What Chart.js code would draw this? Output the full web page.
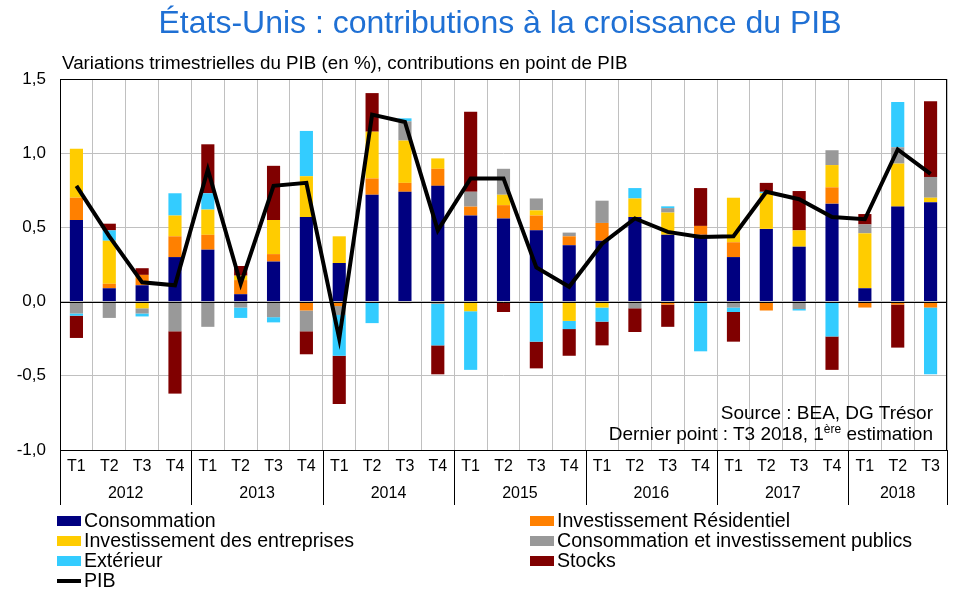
<!DOCTYPE html>
<html lang="fr">
<head>
<meta charset="utf-8">
<script src="https://cdn.jsdelivr.net/npm/chart.js@4.4.1/dist/chart.umd.min.js"></script>
<style>
  body { margin: 0; background: #fff; }
  #wrap { position: relative; width: 959px; height: 592px; font-family: "Liberation Sans", Arial, sans-serif; }
  canvas { position: absolute; left: 0; top: 0; }
  .txt { position: absolute; white-space: nowrap; color: #000; }
  #title { left: 0; width: 1000px; top: 4px; text-align: center; font-size: 32px; color: #1f70d4; }
  #subtitle { left: 62px; top: 52px; font-size: 18.8px; }
  #source { right: 26px; top: 402px; font-size: 19px; text-align: right; line-height: 21px; }
  #source sup { font-size: 12px; vertical-align: 7px; line-height: 0; }
  .leg { position: absolute; font-size: 19.6px; line-height: 20px; }
  .leg i { display: inline-block; width: 24px; height: 10px; margin-right: 3px; vertical-align: 1px; }
</style>
</head>
<body>
<div id="wrap">
  <canvas id="chart" width="959" height="592"></canvas>
  <div class="txt" id="title">États-Unis : contributions à la croissance du PIB</div>
  <div class="txt" id="subtitle">Variations trimestrielles du PIB (en %), contributions en point de PIB</div>
  <div class="txt" id="source">Source : BEA, DG Trésor<br>Dernier point : T3 2018, 1<sup>ère</sup> estimation</div>
  <div id="legend"></div>
</div>
<script>
const quarters = ["T1","T2","T3","T4","T1","T2","T3","T4","T1","T2","T3","T4","T1","T2","T3","T4",
  "T1","T2","T3","T4","T1","T2","T3","T4","T1","T2","T3"];
const years = ["2012","2013","2014","2015","2016","2017","2018"];
const quartersPerYear = [4, 4, 4, 4, 4, 4, 3];

const consommation = [0.55, 0.09, 0.11, 0.30, 0.35, 0.05, 0.27, 0.57, 0.26, 0.72, 0.74, 0.78,
  0.58, 0.56, 0.48, 0.38, 0.41, 0.57, 0.45, 0.45, 0.30, 0.49, 0.37, 0.66, 0.09, 0.64, 0.67];
const residentiel = [0.15, 0.03, 0.07, 0.14, 0.10, 0.095, 0.05, -0.06, -0.03, 0.11, 0.06, 0.115,
  0.06, 0.09, 0.10, 0.06, 0.12, 0, -0.02, 0.06, 0.10, -0.06, 0, 0.11, -0.04, -0.02, -0.04];
const entreprises = [0.33, 0.29, -0.045, 0.14, 0.17, 0.03, 0.23, 0.275, 0.18, 0.315, 0.285, 0.07,
  -0.065, 0.07, 0.035, -0.13, -0.04, 0.125, 0.15, 0, 0.30, 0.24, 0.11, 0.15, 0.37, 0.29, 0.03];
const publics = [-0.08, -0.11, -0.035, -0.20, -0.17, -0.04, -0.105, -0.14, -0.06, 0, 0.13, -0.015,
  0.10, 0.175, 0.08, 0.025, 0.15, -0.045, 0.03, 0, -0.04, 0, -0.05, 0.10, 0.06, 0.11, 0.14];
const exterieur = [-0.015, 0.07, -0.02, 0.15, 0.11, -0.07, -0.035, 0.305, -0.275, -0.145, 0.02, -0.28,
  -0.395, 0, -0.27, -0.055, -0.095, 0.07, 0.012, -0.335, -0.03, 0.01, -0.01, -0.235, 0, 0.305, -0.45];
const stocks = [-0.15, 0.045, 0.045, -0.42, 0.33, 0.065, 0.365, -0.155, -0.325, 0.26, -0.01, -0.195,
  0.54, -0.07, -0.18, -0.18, -0.16, -0.16, -0.15, 0.255, -0.20, 0.06, 0.265, -0.225, 0.07, -0.29, 0.51];
const pib = [0.78, 0.44, 0.13, 0.11, 0.89, 0.12, 0.78, 0.80, -0.25, 1.26, 1.21, 0.48,
  0.83, 0.83, 0.23, 0.10, 0.39, 0.56, 0.47, 0.435, 0.44, 0.74, 0.69, 0.57, 0.555, 1.025, 0.86];

const yTicks = [-1.0, -0.5, 0, 0.5, 1.0, 1.5];

const series = [
  { label: "Consommation", data: consommation, color: "#000080" },
  { label: "Investissement Résidentiel", data: residentiel, color: "#ff8000" },
  { label: "Investissement des entreprises", data: entreprises, color: "#ffcc00" },
  { label: "Consommation et investissement publics", data: publics, color: "#999999" },
  { label: "Extérieur", data: exterieur, color: "#33ccff" },
  { label: "Stocks", data: stocks, color: "#800000" }
];

// year group centres / boundaries in category units
const yearCentres = [];
const yearBounds = [-0.5];
let start = 0;
quartersPerYear.forEach(n => {
  yearCentres.push(start + (n - 1) / 2);
  start += n;
  yearBounds.push(start - 0.5);
});

const gridGrey = "#c0c0c0";

const framePlugin = {
  id: "frame",
  beforeDatasetDraw(chart, args) {
    // zero line above the bars, under the PIB line
    if (args.meta.type !== "line") return;
    const { ctx, chartArea: a, scales } = chart;
    const y0 = Math.round(scales.y.getPixelForValue(0)) + 0.5;
    ctx.save();
    ctx.strokeStyle = "#000";
    ctx.lineWidth = 1;
    ctx.beginPath();
    ctx.moveTo(a.left, y0);
    ctx.lineTo(a.right, y0);
    ctx.stroke();
    ctx.restore();
  },
  afterDraw(chart) {
    const { ctx, chartArea: a, scales } = chart;
    ctx.save();
    ctx.strokeStyle = "#000";
    ctx.lineWidth = 1;
    ctx.strokeRect(Math.round(a.left) + 0.5, Math.round(a.top) + 0.5,
      Math.round(a.right - a.left) - 1, Math.round(a.bottom - a.top));
    ctx.beginPath();
    yearBounds.forEach(b => {
      const x = Math.round(scales.x.getPixelForValue(b)) + 0.5;
      ctx.moveTo(x, a.bottom);
      ctx.lineTo(x, a.bottom + 55);
    });
    ctx.stroke();
    ctx.restore();
  }
};

const datasets = [{
  type: "line",
  label: "PIB",
  data: pib,
  borderColor: "#000",
  borderWidth: 4,
  pointRadius: 0,
  tension: 0,
  stack: "pib",
  order: 0
}];
series.forEach(s => {
  datasets.push({
    type: "bar",
    label: s.label,
    data: s.data,
    backgroundColor: s.color,
    borderWidth: 0,
    barPercentage: 0.4,
    categoryPercentage: 1,
    order: 1
  });
});

const tickFont = { family: "'Liberation Sans', Arial, sans-serif", size: 16 };

new Chart(document.getElementById("chart"), {
  data: { labels: quarters, datasets },
  options: {
    responsive: false,
    animation: false,
    layout: { padding: { left: 0, right: 12, top: 79, bottom: 86 } },
    plugins: { legend: { display: false }, tooltip: { enabled: false } },
    scales: {
      x: {
        stacked: true,
        grid: { color: gridGrey, offset: true, drawTicks: false },
        border: { display: false },
        ticks: { color: "#000", font: tickFont, padding: 7, maxRotation: 0, autoSkip: false },
        afterFit: s => { s.height = 28; }
      },
      x2: {
        type: "linear",
        position: "bottom",
        min: -0.5,
        max: quarters.length - 0.5,
        grid: { display: false, drawTicks: false },
        border: { display: false },
        afterBuildTicks: s => { s.ticks = yearCentres.map(v => ({ value: v })); },
        ticks: { color: "#000", font: tickFont, padding: 6, maxRotation: 0, autoSkip: false,
          callback: (v, i) => years[i] },
        afterFit: s => { s.height = 28; }
      },
      y: {
        stacked: true,
        min: -1,
        max: 1.5,
        afterBuildTicks: s => { s.ticks = yTicks.map(v => ({ value: v })); },
        grid: { color: gridGrey, drawTicks: false },
        border: { display: false },
        ticks: { color: "#000", font: { family: tickFont.family, size: 17 }, padding: 14,
          callback: v => v.toFixed(1).replace(".", ",") },
        afterFit: s => { s.width = 60; }
      }
    }
  },
  plugins: [framePlugin]
});

// legend in two columns, as in the original
const legendItems = series.map(s => ({ label: s.label, color: s.color, line: false }));
legendItems.push({ label: "PIB", color: "#000", line: true });
const legendEl = document.getElementById("legend");
legendItems.forEach((it, i) => {
  const col = i === 6 ? 0 : i % 2;
  const row = Math.floor(i / 2);
  const d = document.createElement("div");
  d.className = "leg";
  d.style.left = (col === 0 ? 57 : 530) + "px";
  d.style.top = (510 + row * 20) + "px";
  const sw = document.createElement("i");
  sw.style.background = it.color;
  if (it.line) { sw.style.height = "4px"; sw.style.verticalAlign = "4px"; }
  d.appendChild(sw);
  d.appendChild(document.createTextNode(it.label));
  legendEl.appendChild(d);
});
</script>
</body>
</html>
